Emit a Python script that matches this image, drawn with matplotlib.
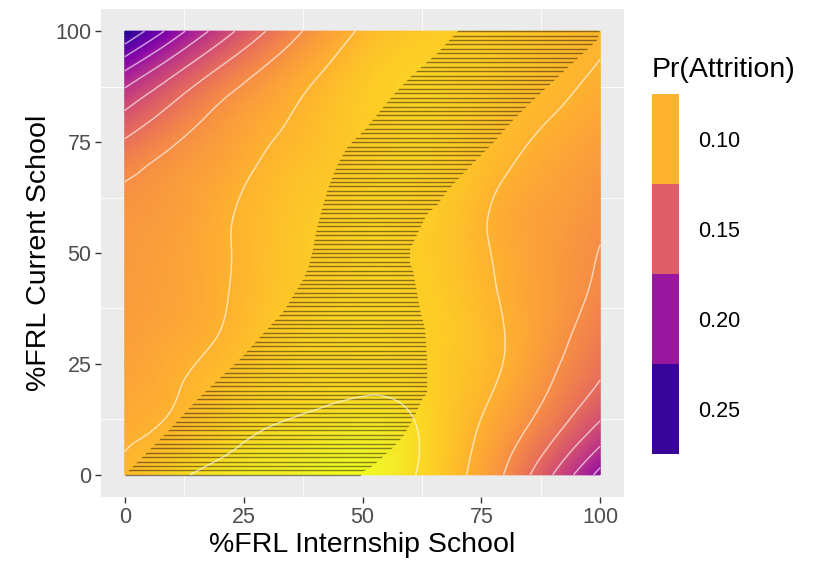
import numpy as np
import matplotlib
matplotlib.use("Agg")
import matplotlib.pyplot as plt
import matplotlib.tri as mtri
from matplotlib.colors import Normalize, ListedColormap, BoundaryNorm
from matplotlib.cm import ScalarMappable
from matplotlib.path import Path
from matplotlib.patches import PathPatch

plt.rcParams['font.family'] = ['Liberation Sans', 'DejaVu Sans']

# grid of %FRL values (internship school on x, current school on y)
frl_grid = [0, 10, 20, 30, 40, 50, 60, 70, 80, 90, 100]

# predicted Pr(Attrition); one row per current-school value (y = 0 ... 100)
pr_attrition = [
    [0.097, 0.084, 0.075, 0.071, 0.068, 0.066, 0.078, 0.096, 0.121, 0.160, 0.207],
    [0.1025, 0.097, 0.087, 0.0795, 0.076, 0.073, 0.078, 0.093, 0.111, 0.135, 0.167],
    [0.107, 0.1015, 0.093, 0.086, 0.083, 0.0815, 0.083, 0.091, 0.103, 0.121, 0.142],
    [0.110, 0.105, 0.099, 0.090, 0.084, 0.083, 0.084, 0.090, 0.100, 0.1145, 0.131],
    [0.112, 0.108, 0.1015, 0.093, 0.087, 0.084, 0.085, 0.091, 0.1015, 0.112, 0.1235],
    [0.114, 0.109, 0.102, 0.094, 0.088, 0.085, 0.086, 0.093, 0.103, 0.112, 0.1205],
    [0.1155, 0.1115, 0.103, 0.095, 0.089, 0.085, 0.086, 0.092, 0.1035, 0.110, 0.117],
    [0.126, 0.1155, 0.108, 0.098, 0.092, 0.087, 0.085, 0.089, 0.0985, 0.106, 0.113],
    [0.153, 0.131, 0.115, 0.104, 0.095, 0.088, 0.085, 0.087, 0.094, 0.1005, 0.107],
    [0.194, 0.161, 0.134, 0.115, 0.101, 0.090, 0.085, 0.086, 0.090, 0.096, 0.1015],
    [0.262, 0.212, 0.171, 0.139, 0.1145, 0.098, 0.090, 0.088, 0.090, 0.094, 0.098],
]

contour_levels = [0.08, 0.10, 0.12, 0.14, 0.16, 0.18, 0.20, 0.22, 0.24]
legend_values = [0.10, 0.15, 0.20, 0.25]
legend_labels = ["0.10", "0.15", "0.20", "0.25"]

# hatched region (significance band), boundaries listed top -> bottom
band_left_x = [70.5, 65.7, 60.4, 56.8, 53.7, 50.7, 46.9, 44.8, 42.9, 41.5, 40.3, 39.6, 38.7, 37.5, 35.8, 33.5, 24.2, 15.8, 8.8, 0.0, 0.0]
band_left_y = [100.5, 95, 90, 86, 82, 78, 74, 70, 65, 60, 55, 51, 47, 44, 41, 37, 26, 17.6, 9.5, 0.0, -0.5]
band_right_x = [100.0, 99.4, 96.4, 92.2, 85.3, 81.7, 77.5, 73.3, 69.9, 67.6, 65.7, 63.6, 61.7, 60.0, 60.0, 60.6, 61.5, 62.1, 63.2, 63.6, 63.6, 62.5, 60.6, 58.5, 56.4, 54.7, 53.7, 51.8, 50.1, 49.5]
band_right_y = [100.5, 98.0, 95.0, 90.8, 83.8, 80.0, 74.8, 70.3, 66.4, 63.7, 60.8, 58.8, 54.7, 50.7, 47.7, 46.2, 41.0, 37.2, 32.7, 25.9, 18.5, 16.9, 12.4, 8.6, 6.1, 4.5, 3.4, 1.8, 0.7, -0.5]
band_rows = np.arange(0, 101)

norm = Normalize(vmin=0.066, vmax=0.266)
cmap = plt.get_cmap('plasma_r')

fig = plt.figure(figsize=(8.16, 5.64), dpi=100)
ax = fig.add_axes([101 / 816, 67 / 564, 523 / 816, 488 / 564])
ax.set_facecolor('#EBEBEB')
ax.set_xlim(-5, 105)
ax.set_ylim(-5, 105)
ax.set_xticks([0, 25, 50, 75, 100])
ax.set_yticks([0, 25, 50, 75, 100])
ax.set_xticks([12.5, 37.5, 62.5, 87.5], minor=True)
ax.set_yticks([12.5, 37.5, 62.5, 87.5], minor=True)
ax.grid(which='major', color='white', linewidth=1.2)
ax.grid(which='minor', color='white', linewidth=0.6)
ax.set_axisbelow(True)
for s in ax.spines.values():
    s.set_visible(False)
ax.tick_params(which='major', length=4, width=1, color='#333333',
               labelcolor='#4D4D4D', labelsize=15.5, pad=3)
ax.tick_params(which='minor', length=0)

# smooth surface from the grid
X, Y = np.meshgrid(frl_grid, frl_grid)
Z = np.array(pr_attrition)
tri = mtri.Triangulation(X.ravel(), Y.ravel())
interp = mtri.CubicTriInterpolator(tri, Z.ravel(), kind='min_E')
tri_f, z_f = mtri.UniformTriRefiner(tri).refine_field(Z.ravel(), triinterpolator=interp, subdiv=4)

ax.tripcolor(tri_f, z_f, cmap=cmap, norm=norm, shading='gouraud', zorder=1)

# hatched band: horizontal rows clipped to the region
verts = list(zip(band_left_x, band_left_y)) + list(zip(band_right_x[::-1], band_right_y[::-1]))
band = PathPatch(Path(verts + [verts[0]], closed=True), facecolor='none', edgecolor='none',
                 transform=ax.transData)
ax.add_patch(band)
rows = ax.hlines(band_rows, 0, 100, colors='black', linewidth=1.0, alpha=0.45, zorder=2)
rows.set_clip_path(band)

ax.tricontour(tri_f, z_f, levels=contour_levels, colors='white',
              linewidths=1.1, alpha=0.6, zorder=3)

ax.set_xlabel('%FRL Internship School', fontsize=20.5, labelpad=3)
ax.set_ylabel('%FRL Current School', fontsize=20.5, labelpad=2)

# binned legend
cax = fig.add_axes([652 / 816, 110 / 564, 27 / 816, 360 / 564])
key_colors = [cmap(norm(v)) for v in legend_values]
key_cmap = ListedColormap(key_colors[::-1])
key_norm = BoundaryNorm([0, 1, 2, 3, 4], 4)
cb = fig.colorbar(ScalarMappable(norm=key_norm, cmap=key_cmap), cax=cax,
                  ticks=[0.5, 1.5, 2.5, 3.5])
cb.set_ticklabels(legend_labels[::-1])
cb.outline.set_visible(False)
cax.minorticks_off()
cax.tick_params(which='both', length=0, labelsize=15.5, pad=14)
fig.text(652 / 816, 1 - 70 / 564, 'Pr(Attrition)', fontsize=20.5, ha='left', va='center')

fig.savefig('out.png', dpi=100)
